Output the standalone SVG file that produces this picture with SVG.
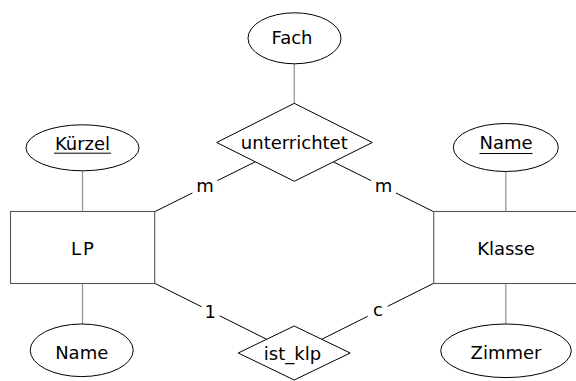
<svg xmlns="http://www.w3.org/2000/svg" width="576" height="381" viewBox="0 0 576 381">
<style>
text{font-family:"DejaVu Sans",sans-serif;font-size:18px;fill:#000;text-anchor:middle}
.ent{fill:#fff;stroke:#555;stroke-width:1.1}
.attr{fill:#fff;stroke:#000;stroke-width:1}
.rel{fill:#fff;stroke:#000;stroke-width:1}
.al{stroke:#999;stroke-width:1.3;fill:none}
.rl{stroke:#000;stroke-width:1;fill:none}
.lb{fill:#fff;stroke:none}
.ul{stroke:#000;stroke-width:1}
</style>
<rect width="576" height="381" fill="#fff"/>
<g id="connectors">
<line class="al" x1="82.5" y1="170.5" x2="82.5" y2="211.5"/>
<line class="al" x1="82.5" y1="283.5" x2="82.5" y2="324"/>
<line class="al" x1="505.8" y1="171.5" x2="505.8" y2="211.5"/>
<line class="al" x1="505.8" y1="283.5" x2="505.8" y2="324"/>
<line class="al" x1="294.3" y1="64" x2="294.3" y2="103.3"/>
<line class="rl" x1="154.7" y1="211.7" x2="255.1" y2="161.9"/>
<line class="rl" x1="433.7" y1="211.7" x2="333.4" y2="161.9"/>
<line class="rl" x1="154.7" y1="283.3" x2="266.7" y2="339.3"/>
<line class="rl" x1="433.7" y1="283.3" x2="321.7" y2="339.3"/>
<rect class="lb" x="192.4" y="177" width="25" height="20"/>
<text x="204.9" y="191.7">m</text>
<rect class="lb" x="371" y="177" width="25" height="20"/>
<text x="383.5" y="191.7">m</text>
<rect class="lb" x="201.7" y="300.5" width="18" height="22"/>
<text x="210.3" y="317.8">1</text>
<rect class="lb" x="367.7" y="300.5" width="20" height="22"/>
<text x="377.9" y="316.2">c</text>
</g>
<g id="LP">
<rect class="ent" x="10.5" y="211.5" width="144.2" height="72"/>
<text x="83.5" y="254.8" letter-spacing="2">LP</text>
</g>
<g id="Klasse">
<rect class="ent" x="433.7" y="211.5" width="150" height="72"/>
<text x="506" y="254.5">Klasse</text>
</g>
<g id="Kuerzel">
<ellipse class="attr" cx="82.5" cy="147.8" rx="56.5" ry="23"/>
<text x="82.5" y="149.5">Kürzel</text>
<line class="ul" x1="54" y1="153.2" x2="111" y2="153.2"/>
</g>
<g id="NameLP">
<ellipse class="attr" cx="81.7" cy="350.3" rx="51.5" ry="26.3"/>
<text x="81.7" y="358.5">Name</text>
</g>
<g id="NameKlasse">
<ellipse class="attr" cx="505.8" cy="147.5" rx="52.5" ry="24"/>
<text x="506" y="149.3">Name</text>
<line class="ul" x1="479.5" y1="153.5" x2="532.5" y2="153.5"/>
</g>
<g id="Zimmer">
<ellipse class="attr" cx="506" cy="350.8" rx="65.3" ry="26.8"/>
<text x="506" y="358.5">Zimmer</text>
</g>
<g id="Fach">
<ellipse class="attr" cx="294.5" cy="38.3" rx="46.5" ry="25.5"/>
<text x="292" y="43.5">Fach</text>
</g>
<g id="unterrichtet">
<polygon class="rel" points="294.3,103.3 372.3,142.5 294.3,181.3 216.7,142.5"/>
<text x="294.3" y="149.3">unterrichtet</text>
</g>
<g id="ist_klp">
<polygon class="rel" points="294.2,326 350.2,353 294.2,380 238.2,353"/>
<text x="292.5" y="359.5">ist_klp</text>
</g>
</svg>
